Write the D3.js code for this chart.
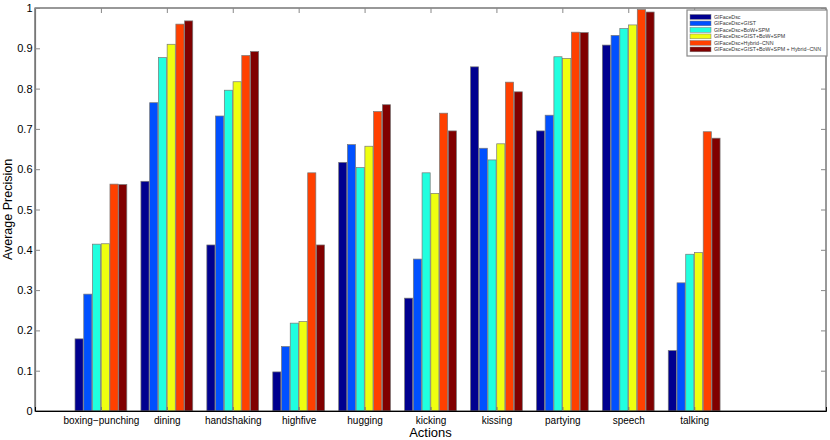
<!DOCTYPE html>
<html>
<head>
<meta charset="utf-8">
<script src="https://cdn.jsdelivr.net/npm/d3@7"></script>
<style>
  body { margin: 0; background: #fff; }
  text { font-family: "Liberation Sans", Arial, sans-serif; }
</style>
</head>
<body>
<script>
// categories and series
var actions = ["boxing\u2212punching", "dining", "handshaking", "highfive", "hugging",
               "kicking", "kissing", "partying", "speech", "talking"];
var seriesNames = ["GIFaceDsc", "GIFaceDsc+GIST", "GIFaceDsc+BoW+SPM", "GIFaceDsc+GIST+BoW+SPM",
                   "GIFaceDsc+Hybrid\u2212CNN", "GIFaceDsc+GIST+BoW+SPM + Hybrid\u2212CNN"];
var colors = ["#00008f", "#0050ff", "#20ffdf", "#efff10", "#ff4000", "#800000"];

var faceDsc      = [0.179, 0.570, 0.412, 0.097, 0.617, 0.280, 0.854, 0.695, 0.908, 0.150];
var faceGist     = [0.290, 0.765, 0.732, 0.160, 0.661, 0.377, 0.652, 0.734, 0.932, 0.318];
var faceBow      = [0.414, 0.877, 0.796, 0.218, 0.604, 0.591, 0.623, 0.879, 0.949, 0.389];
var faceGistBow  = [0.415, 0.910, 0.817, 0.222, 0.657, 0.540, 0.663, 0.875, 0.958, 0.393];
var faceCnn      = [0.563, 0.960, 0.882, 0.591, 0.743, 0.739, 0.816, 0.940, 0.996, 0.693];
var faceAll      = [0.562, 0.968, 0.892, 0.412, 0.760, 0.695, 0.792, 0.939, 0.990, 0.677];
var seriesValues = [faceDsc, faceGist, faceBow, faceGistBow, faceCnn, faceAll];

var yTicks = [0, 0.1, 0.2, 0.3, 0.4, 0.5, 0.6, 0.7, 0.8, 0.9, 1];

var W = 830, H = 440;
var margin = {top: 8, right: 4, bottom: 29, left: 35};
var width = W - margin.left - margin.right;
var height = H - margin.top - margin.bottom;

var svg = d3.select("body").append("svg")
    .attr("width", W)
    .attr("height", H);
var g = svg.append("g")
    .attr("transform", "translate(" + margin.left + "," + margin.top + ")");

// MATLAB style: numeric x from 0 to 12, groups at 1..10
var x = d3.scaleLinear().domain([0, 12]).range([0, width]);
var y = d3.scaleLinear().domain([0, 1]).range([height, 0]);
var unit = x(1) - x(0);
var x1 = d3.scaleBand()
    .domain(d3.range(seriesNames.length))
    .range([-0.393 * unit, 0.393 * unit])
    .paddingInner(0.07);

var groups = g.selectAll(".grp")
    .data(actions)
    .enter().append("g")
    .attr("class", "grp")
    .attr("transform", function(d, i) { return "translate(" + x(i + 1) + ",0)"; });

groups.selectAll("rect")
    .data(function(d, i) { return seriesValues.map(function(s, k) { return {k: k, v: s[i]}; }); })
    .enter().append("rect")
    .attr("x", function(d) { return x1(d.k); })
    .attr("width", x1.bandwidth())
    .attr("y", function(d) { return y(d.v); })
    .attr("height", function(d) { return height - y(d.v); })
    .attr("fill", function(d) { return colors[d.k]; })
    .attr("stroke", "#777")
    .attr("stroke-width", 0.7);

// frame
g.append("rect")
    .attr("width", width).attr("height", height)
    .attr("fill", "none").attr("stroke", "#333").attr("stroke-width", 1);

// y axis (ticks inside, mirrored on right)
var yAxis = d3.axisLeft(y).tickValues(yTicks).tickSize(-5).tickPadding(2.5)
    .tickFormat(function(d) { return d === 0 || d === 1 ? d3.format("d")(d) : d3.format(".1f")(d); });
var ya = g.append("g").call(yAxis);
ya.select(".domain").attr("stroke", "#777").attr("stroke-width", 1.2);
ya.selectAll(".tick line").attr("stroke", "#888");
ya.selectAll("text").attr("font-size", 11).attr("fill", "#000");

var yr = g.append("g").attr("transform", "translate(" + width + ",0)")
    .call(d3.axisRight(y).tickValues(yTicks).tickSize(-5).tickFormat(""));
yr.select(".domain").remove();
yr.selectAll(".tick line").attr("stroke", "#888");

// x axis
var xAxis = d3.axisBottom(x).tickValues(d3.range(1, actions.length + 1)).tickSize(-4).tickPadding(6)
    .tickFormat(function(d) { return actions[d - 1]; });
var xa = g.append("g").attr("transform", "translate(0," + height + ")").call(xAxis);
xa.select(".domain").attr("stroke", "#000").attr("stroke-width", 1);
xa.selectAll(".tick line").attr("stroke", "#777").attr("stroke-width", 1.2);
xa.selectAll("text").attr("font-size", 10).attr("fill", "#000");

var xt = g.append("g").call(d3.axisTop(x).tickValues(d3.range(1, actions.length + 1)).tickSize(-5).tickFormat(""));
xt.select(".domain").remove();
xt.selectAll(".tick line").attr("stroke", "#888");

// axis titles
svg.append("text")
    .attr("transform", "translate(12," + (margin.top + height / 2) + ") rotate(-90)")
    .attr("text-anchor", "middle")
    .attr("font-size", 12.5)
    .text("Average Precision");

svg.append("text")
    .attr("x", margin.left + x(6))
    .attr("y", 437)
    .attr("text-anchor", "middle")
    .attr("font-size", 13)
    .text("Actions");

// legend
var lg = svg.append("g").attr("transform", "translate(687,10)");
lg.append("rect")
    .attr("width", 140).attr("height", 46)
    .attr("fill", "#fff").attr("stroke", "#888").attr("stroke-width", 1.2);
var item = lg.selectAll(".item")
    .data(seriesNames)
    .enter().append("g")
    .attr("transform", function(d, i) { return "translate(3," + (4.5 + i * 6.5) + ")"; });
item.append("rect")
    .attr("width", 21).attr("height", 4.8)
    .attr("fill", function(d, i) { return colors[i]; })
    .attr("stroke", "#777").attr("stroke-width", 0.5);
item.append("text")
    .attr("x", 24).attr("y", 4.3)
    .attr("font-size", 5.3)
    .attr("fill", "#333")
    .text(function(d) { return d; });
</script>
</body>
</html>
